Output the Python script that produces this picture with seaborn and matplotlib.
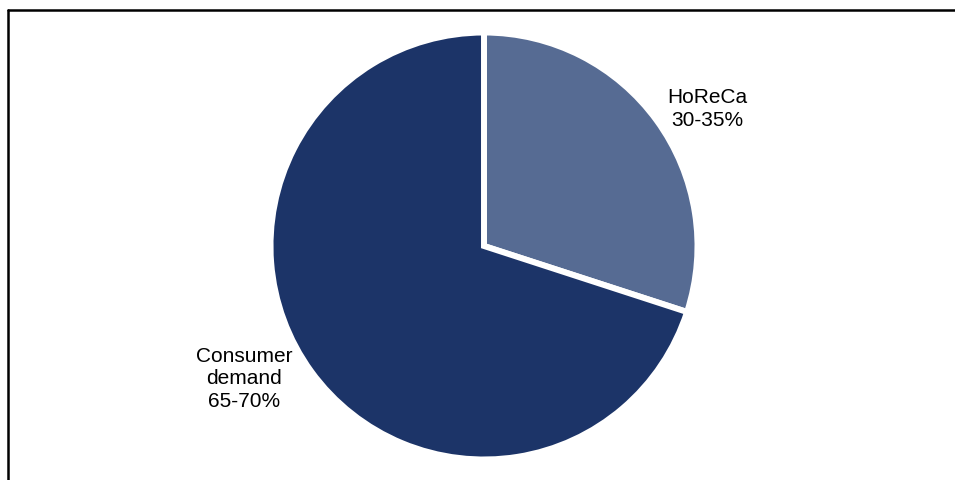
import matplotlib
matplotlib.use("Agg")
import matplotlib.pyplot as plt
from matplotlib.lines import Line2D
import seaborn as sns

categories = ["HoReCa", "Consumer demand"]
values = [30, 70]
labels = ["HoReCa\n30-35%", "Consumer\ndemand\n65-70%"]
colors = ["#566B93", "#1C3468"]

sns.set_theme(style="white")
plt.rcParams["font.family"] = ["Liberation Sans", "DejaVu Sans"]

W, H = 955, 480
fig = plt.figure(figsize=(W / 100, H / 100), dpi=100)
fig.patch.set_facecolor("white")

cx, cy, r = 484, 246, 213.5
ax = fig.add_axes([(cx - r) / W, (H - cy - r) / H, 2 * r / W, 2 * r / H])
ax.pie(values, colors=colors, startangle=90, counterclock=False,
       radius=1.0, wedgeprops=dict(edgecolor="white", linewidth=4.3))
ax.set_xlim(-1.0, 1.0)
ax.set_ylim(-1.0, 1.0)
ax.set_aspect("equal")
ax.axis("off")

# label positions (pixels)
fig.text(707 / W, 1 - 109 / H, labels[0], ha="center", va="center",
         fontsize=15, color="black", linespacing=1.25)
fig.text(244 / W, 1 - 379 / H, labels[1], ha="center", va="center",
         fontsize=15, color="black", linespacing=1.25)

# frame lines (top and left)
fig.add_artist(Line2D([7.5 / W, 1.01], [1 - 9.5 / H, 1 - 9.5 / H],
                      transform=fig.transFigure, color="black", lw=1.8))
fig.add_artist(Line2D([7.5 / W, 7.5 / W], [-0.01, 1 - 9.5 / H],
                      transform=fig.transFigure, color="black", lw=1.8))

fig.savefig("out.png", dpi=100, facecolor="white")
